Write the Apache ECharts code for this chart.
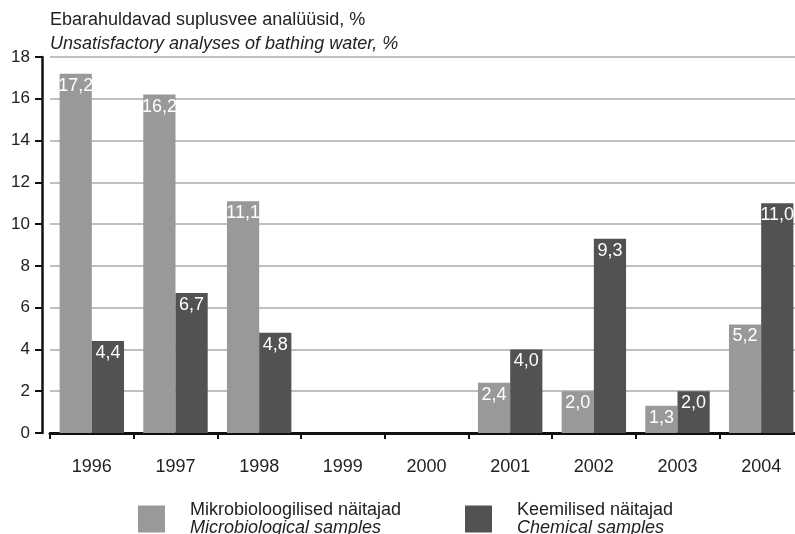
<!DOCTYPE html>
<html>
<head>
<meta charset="utf-8">
<script src="https://cdn.jsdelivr.net/npm/echarts@6/dist/echarts.min.js"></script>
<style>
html,body{margin:0;padding:0;background:#fff;}
#chart{width:795px;height:534px;}
</style>
</head>
<body>
<div id="chart"></div>
<script>
// aastad
var years = ['1996', '1997', '1998', '1999', '2000', '2001', '2002', '2003', '2004'];
// mikrobioloogilised näitajad
var microData = [17.2, 16.2, 11.1, null, null, 2.4, 2.0, 1.3, 5.2];
// keemilised näitajad
var chemData = [4.4, 6.7, 4.8, null, null, 4.0, 9.3, 2.0, 11.0];
var microName = 'Mikrobioloogilised näitajad';
var microNameEn = 'Microbiological samples';
var chemName = 'Keemilised näitajad';
var chemNameEn = 'Chemical samples';

var FONT = '"Liberation Sans", Arial, sans-serif';

var chart = echarts.init(document.getElementById('chart'));

var labelOpt = {
	show: true,
	position: 'insideTop',
	distance: 3,
	color: '#fff',
	fontSize: 18,
	fontFamily: FONT,
	formatter: function (p) {
		return p.value.toFixed(1).replace('.', ',');
	}
};

function legendOpt(left, name, nameEn) {
	return {
		data: [name],
		left: left,
		top: 496,
		icon: 'rect',
		itemWidth: 27,
		itemHeight: 27,
		formatter: function () {
			return '{a|' + name + '}\n{b|' + nameEn + '}';
		},
		textStyle: {
			padding: [0, 0, 0, 20],
			rich: {
				a: {fontSize: 18, fontFamily: FONT, color: '#222', lineHeight: 18},
				b: {fontSize: 18, fontFamily: FONT, fontStyle: 'italic', color: '#222', lineHeight: 18}
			}
		}
	};
}

chart.setOption({
	animation: false,
	title: [
		{
			text: 'Ebarahuldavad suplusvee analüüsid, %',
			left: 45,
			top: 6,
			textStyle: {fontSize: 18, fontWeight: 'normal', color: '#222', fontFamily: FONT}
		},
		{
			text: 'Unsatisfactory analyses of bathing water, %',
			left: 45,
			top: 30,
			textStyle: {fontSize: 18, fontWeight: 'normal', fontStyle: 'italic', color: '#222', fontFamily: FONT}
		}
	],
	legend: [
		legendOpt(133, microName, microNameEn),
		legendOpt(460, chemName, chemNameEn)
	],
	grid: {
		left: 50,
		top: 57,
		width: 753,
		height: 376,
		outerBoundsMode: 'none'
	},
	xAxis: {
		type: 'category',
		data: years,
		offset: 8,
		axisLine: {lineStyle: {color: '#111', width: 3}},
		axisTick: {show: true, length: 6, lineStyle: {color: '#111', width: 2}},
		axisLabel: {fontSize: 18, color: '#222', fontFamily: FONT, margin: 17}
	},
	yAxis: {
		type: 'value',
		min: 0,
		max: 18,
		interval: 2,
		offset: 8,
		axisLine: {show: true, lineStyle: {color: '#111', width: 2.5}},
		axisTick: {show: true, length: 7, lineStyle: {color: '#111', width: 2}},
		axisLabel: {fontSize: 17, color: '#222', fontFamily: FONT, margin: 12},
		splitLine: {lineStyle: {color: '#aaa', width: 1.5}}
	},
	series: [
		{
			name: microName,
			type: 'bar',
			data: microData,
			barGap: 0,
			barCategoryGap: '23%',
			itemStyle: {color: '#999999'},
			label: labelOpt
		},
		{
			name: chemName,
			type: 'bar',
			data: chemData,
			barGap: 0,
			barCategoryGap: '23%',
			itemStyle: {color: '#525252'},
			label: labelOpt
		}
	]
});
</script>
</body>
</html>
